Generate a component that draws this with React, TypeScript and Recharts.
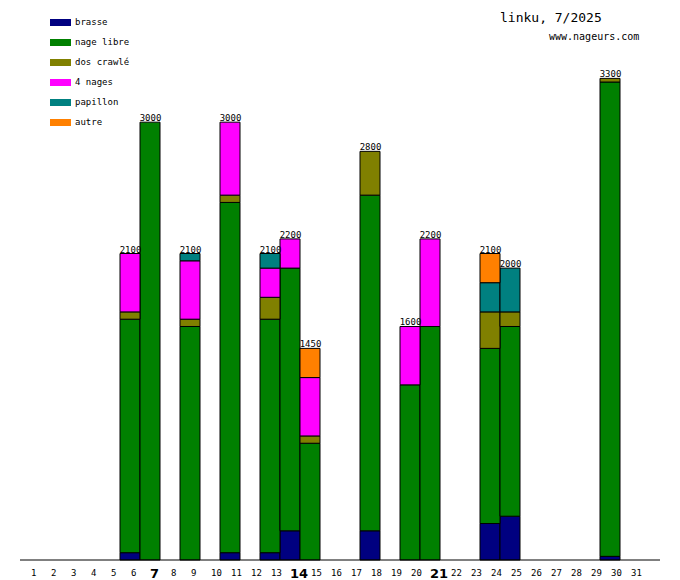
import { ComposedChart, Bar, Line, XAxis, YAxis, LabelList } from "recharts"

const days = [1, 2, 3, 4, 5, 6, 7, 8, 9, 10, 11, 12, 13, 14, 15, 16, 17, 18, 19, 20, 21, 22, 23, 24, 25, 26, 27, 28, 29, 30, 31]
const boldDays = [7, 14, 21]

const brasse = [0, 0, 0, 0, 0, 50, 0, 0, 0, 0, 50, 0, 50, 200, 0, 0, 0, 200, 0, 0, 0, 0, 0, 250, 300, 0, 0, 0, 0, 25, 0]
const nageLibre = [0, 0, 0, 0, 0, 1600, 3000, 0, 1600, 0, 2400, 0, 1600, 1800, 800, 0, 0, 2300, 0, 1200, 1600, 0, 0, 1200, 1300, 0, 0, 0, 0, 3250, 0]
const dosCrawle = [0, 0, 0, 0, 0, 50, 0, 0, 50, 0, 50, 0, 150, 0, 50, 0, 0, 300, 0, 0, 0, 0, 0, 250, 100, 0, 0, 0, 0, 25, 0]
const quatreNages = [0, 0, 0, 0, 0, 400, 0, 0, 400, 0, 500, 0, 200, 200, 400, 0, 0, 0, 0, 400, 600, 0, 0, 0, 0, 0, 0, 0, 0, 0, 0]
const papillon = [0, 0, 0, 0, 0, 0, 0, 0, 50, 0, 0, 0, 100, 0, 0, 0, 0, 0, 0, 0, 0, 0, 0, 200, 300, 0, 0, 0, 0, 0, 0]
const autre = [0, 0, 0, 0, 0, 0, 0, 0, 0, 0, 0, 0, 0, 0, 200, 0, 0, 0, 0, 0, 0, 0, 0, 200, 0, 0, 0, 0, 0, 0, 0]

const series = [
  { key: "brasse", name: "brasse", color: "#000080" },
  { key: "nageLibre", name: "nage libre", color: "#008000" },
  { key: "dosCrawle", name: "dos crawlé", color: "#808000" },
  { key: "quatreNages", name: "4 nages", color: "#ff00ff" },
  { key: "papillon", name: "papillon", color: "#008080" },
  { key: "autre", name: "autre", color: "#ff8000" },
]

const data = days.map((day, i) => ({
  day,
  brasse: brasse[i],
  nageLibre: nageLibre[i],
  dosCrawle: dosCrawle[i],
  quatreNages: quatreNages[i],
  papillon: papillon[i],
  autre: autre[i],
  total: brasse[i] + nageLibre[i] + dosCrawle[i] + quatreNages[i] + papillon[i] + autre[i],
}))

const mono = "'DejaVu Sans Mono', monospace"

function DayTick(props: any) {
  const { x, payload } = props
  const bold = boldDays.includes(payload.value)
  return (
    <text
      x={bold ? x : x + 1}
      y={bold ? 578 : 576}
      textAnchor="start"
      fontFamily={bold ? "'DejaVu Sans', sans-serif" : mono}
      fontSize={bold ? 13 : 9}
      fontWeight={bold ? "bold" : "normal"}
      fill="#000"
    >
      {payload.value}
    </text>
  )
}

function TotalLabel(props: any) {
  const { x, y, value } = props
  if (!value) return null
  return (
    <text x={x + 0.5} y={y - 1} textAnchor="middle" fontFamily={mono} fontSize={9} fill="#000">
      {value}
    </text>
  )
}

export default function App() {
  return (
    <div style={{ position: "absolute", left: 0, top: 0, width: 680, height: 580, background: "#fff" }}>
      <ComposedChart
        width={680}
        height={580}
        data={data}
        margin={{ top: 20, right: 20, bottom: 0, left: 20 }}
        barCategoryGap={0}
        barGap={0}
      >
        <XAxis
          dataKey="day"
          height={20}
          tickLine={false}
          axisLine={{ stroke: "#000" }}
          tick={<DayTick />}
          interval={0}
          padding={{ left: 0, right: 20 }}
        />
        <YAxis width={0} tick={false} tickLine={false} axisLine={{ stroke: "#000" }} domain={[0, 3700]} />
        {series.map((s) => (
          <Bar
            key={s.key}
            dataKey={s.key}
            name={s.name}
            stackId="a"
            fill={s.color}
            stroke="#000"
            strokeWidth={1}
            isAnimationActive={false}
          />
        ))}
        {/* invisible line only used to place the day totals */}
        <Line dataKey="total" stroke="none" dot={false} activeDot={false} isAnimationActive={false}>
          <LabelList dataKey="total" content={<TotalLabel />} />
        </Line>
      </ComposedChart>

      {series.map((s, i) => (
        <div
          key={s.key}
          style={{ position: "absolute", left: 50, top: 18 + i * 20, height: 9, display: "flex", alignItems: "center" }}
        >
          <div style={{ width: 21, height: 7, background: s.color }} />
          <span style={{ marginLeft: 4, fontFamily: mono, fontSize: 9, lineHeight: "9px", color: "#000" }}>{s.name}</span>
        </div>
      ))}

      <div style={{ position: "absolute", left: 500, top: 10, fontFamily: mono, fontSize: 13, lineHeight: "15px", color: "#000" }}>
        linku, 7/2025
      </div>
      <div style={{ position: "absolute", left: 549, top: 31, fontFamily: mono, fontSize: 10, lineHeight: "12px", color: "#000" }}>
        www.nageurs.com
      </div>
    </div>
  )
}
